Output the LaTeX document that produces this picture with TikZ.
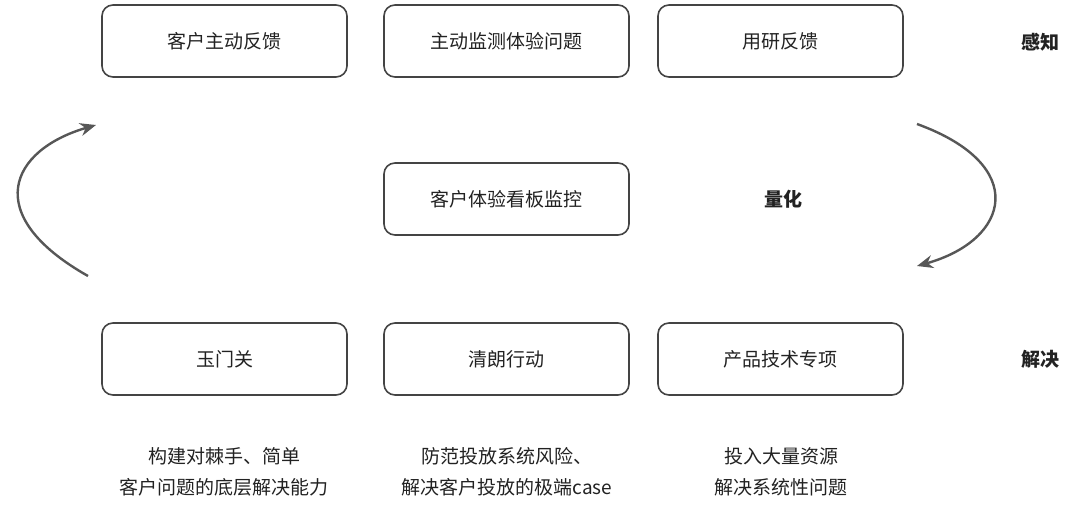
\documentclass[tikz,border=0pt]{standalone}
\usepackage{fontspec}
\setmainfont{Noto Sans CJK SC}
\usetikzlibrary{arrows.meta}
\definecolor{tx}{HTML}{222222}
\definecolor{ln}{HTML}{444444}
\begin{document}
\begin{tikzpicture}[x=1pt,y=-1pt,
  box/.style={draw=ln,line width=1.6pt,rounded corners=11pt,minimum width=245pt,minimum height=72pt,font=\fontsize{19}{22}\selectfont,text=tx},
  lab/.style={font=\fontsize{19}{22}\selectfont\bfseries,text=tx},
  desc/.style={font=\fontsize{19}{22}\selectfont,text=tx,align=center},
  arr/.style={draw=ln!90,line width=2.4pt,-{Stealth[length=16pt,width=13pt]}}]
\useasboundingbox (0,0) rectangle (1080,525);
\node[box] (a1) at (224.5,41) {客户主动反馈};
\node[box] (a2) at (506.5,41) {主动监测体验问题};
\node[box] (a3) at (780.5,41) {用研反馈};
\node[box] (m) at (506.5,199) {客户体验看板监控};
\node[box] (b1) at (224.5,359) {玉门关};
\node[box] (b2) at (506.5,359) {清朗行动};
\node[box] (b3) at (780.5,359) {产品技术专项};
\node[lab] (l1) at (1040,42) {感知};
\node[lab] (l2) at (783,199) {量化};
\node[lab] (l3) at (1040,359) {解决};
\node[desc] (d1) at (224,472) {构建对棘手、简单\\[9pt]客户问题的底层解决能力};
\node[desc] (d2) at (507,472) {防范投放系统风险、\\[9pt]解决客户投放的极端case};
\node[desc] (d3) at (781,472) {投入大量资源\\[9pt]解决系统性问题};
\coordinate (ls) at (88,276);
\coordinate (le) at (96,125);
\coordinate (rs) at (917,124);
\coordinate (re) at (917,266);
\draw[arr] (ls) .. controls (-20,215) and (10,150) .. (le);
\draw[arr] (rs) .. controls (1030,165) and (1010,240) .. (re);
\end{tikzpicture}
\end{document}
